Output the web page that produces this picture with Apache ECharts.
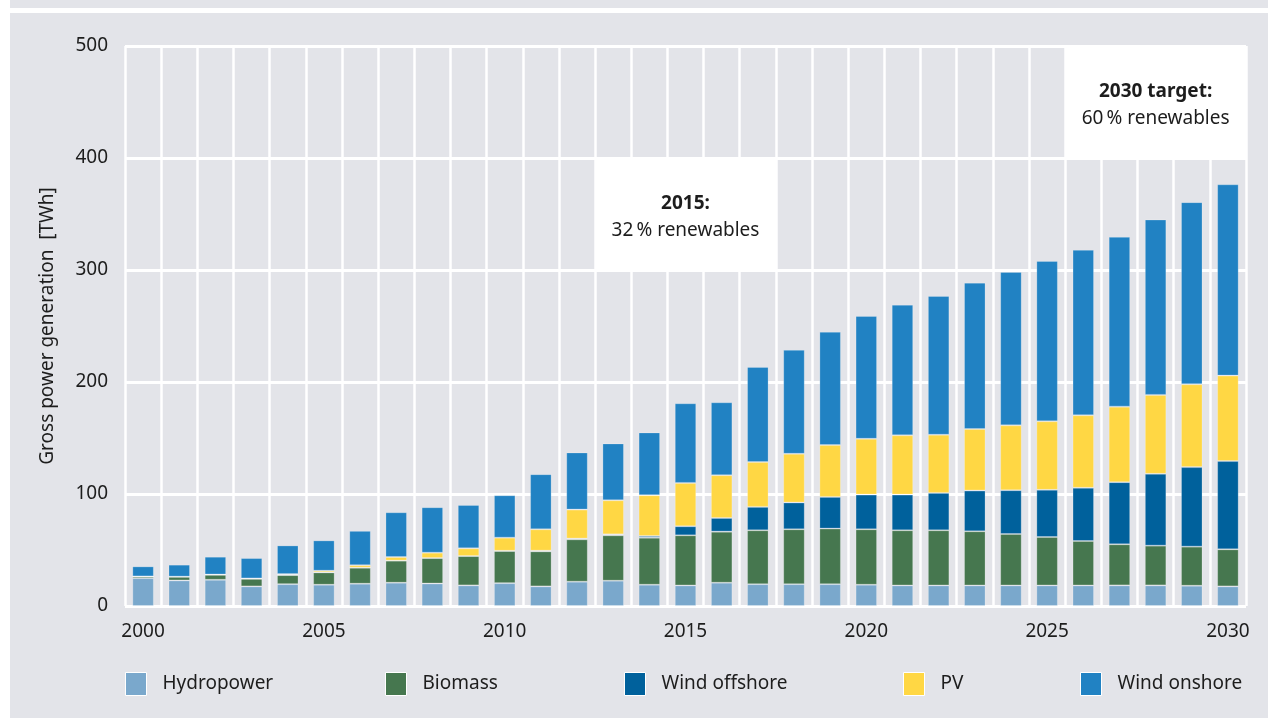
<!DOCTYPE html>
<html>
<head>
<meta charset="utf-8">
<title>Gross power generation from renewables</title>
<script src="https://cdn.jsdelivr.net/npm/echarts@6/dist/echarts.min.js"></script>
<style>
  html, body { margin: 0; padding: 0; background: #ffffff; }
  body { width: 1268px; height: 718px; position: relative; overflow: hidden; }
  .band { position: absolute; background: #e3e4e9; }
  #topBand { left: 10px; top: 0; width: 1258px; height: 8px; }
  #panel { left: 10px; top: 13px; width: 1258px; height: 705px; }
  #chart { position: absolute; left: 0; top: 0; width: 1268px; height: 718px; }
</style>
</head>
<body>
<div class="band" id="topBand"></div>
<div class="band" id="panel"></div>
<div id="chart"></div>
<script>
// Years on the category axis
const years = [
  '2000','2001','2002','2003','2004','2005','2006','2007','2008','2009',
  '2010','2011','2012','2013','2014','2015','2016','2017','2018','2019',
  '2020','2021','2022','2023','2024','2025','2026','2027','2028','2029','2030'
];

// Gross power generation by source, TWh
const hydropower = [
  24.9, 22.8, 23.4, 17.5, 19.5, 19.0, 19.9, 20.8, 20.1, 18.4,
  20.4, 17.5, 21.7, 22.6, 19.0, 18.4, 20.8, 19.5, 19.5, 19.5,
  19.0, 18.4, 18.4, 18.4, 18.4, 18.4, 18.4, 18.4, 18.4, 18.1, 17.5
];
const biomass = [
  1.5, 3.3, 4.5, 6.8, 8.1, 11.0, 14.3, 19.7, 22.7, 26.2,
  28.7, 31.3, 37.8, 40.5, 42.0, 44.7, 45.6, 48.1, 49.0, 49.6,
  49.5, 49.2, 49.2, 48.3, 45.9, 43.2, 39.6, 36.7, 35.5, 34.9, 33.1
];
const windOffshore = [
  0, 0, 0, 0, 0, 0, 0, 0, 0, 0,
  0.2, 0.6, 0.7, 0.9, 1.5, 8.1, 12.2, 20.9, 23.9, 28.3,
  31.0, 31.9, 33.4, 36.4, 39.1, 42.1, 47.5, 55.5, 64.1, 71.0, 78.8
];
const pv = [
  0, 0.1, 0.2, 0.3, 0.9, 1.5, 2.2, 3.2, 4.8, 6.9,
  11.7, 19.1, 25.9, 30.4, 36.4, 38.7, 38.2, 40.0, 43.5, 46.3,
  49.8, 52.9, 51.9, 54.9, 57.9, 61.2, 64.8, 67.4, 70.5, 74.0, 76.3
];
const windOnshore = [
  9.0, 10.7, 15.9, 18.2, 25.6, 27.1, 30.7, 40.0, 40.6, 38.7,
  37.9, 49.2, 51.0, 50.8, 56.1, 71.1, 65.1, 85.0, 92.8, 101.1,
  109.6, 116.6, 123.9, 130.7, 137.0, 143.2, 147.7, 151.6, 156.6, 162.6, 170.8
];

// Value axis ticks
const yTicks = [0, 100, 200, 300, 400, 500];

// Callout boxes: spanned years, value range, heading and share text
const noteFirstYear = ['2013', '2026'];
const noteLastYear = ['2017', '2030'];
const noteLow = [300, 400];
const noteHigh = [400, 500];
const noteHeading = ['2015:', '2030 target:'];
const noteShare = ['32\u2009% renewables', '60\u2009% renewables'];

const seriesNames = ['Hydropower', 'Biomass', 'Wind offshore', 'PV', 'Wind onshore'];
const seriesData = [hydropower, biomass, windOffshore, pv, windOnshore];
const seriesColors = ['#7aa8cc', '#46774f', '#00619c', '#ffd744', '#2182c3'];
const legendLeft = [120, 380, 619, 898, 1075];

const FONT = '"Noto Sans", "Open Sans", sans-serif';
const INK = '#1d1d1d';

const noteData = noteHeading.map((h, i) => [
  years.indexOf(noteFirstYear[i]),
  years.indexOf(noteLastYear[i]),
  noteLow[i],
  noteHigh[i],
  h,
  noteShare[i]
]);

const barSeries = seriesNames.map((name, i) => ({
  name: name,
  type: 'bar',
  stack: 'total',
  data: seriesData[i],
  barWidth: 21.5,
  itemStyle: {
    color: seriesColors[i],
    borderColor: 'rgba(255,255,255,0.22)',
    borderWidth: 1
  },
  emphasis: { disabled: true }
}));

const noteSeries = {
  type: 'custom',
  name: 'notes',
  data: noteData,
  silent: true,
  z: 5,
  encode: { x: [0, 1], y: [2, 3] },
  renderItem: function (params, api) {
    const i0 = api.value(0);
    const i1 = api.value(1);
    const topLeft = api.coord([i0, api.value(3)]);
    const bottomLeft = api.coord([i0, api.value(2)]);
    const band = api.size([1, 0])[0];
    const x0 = topLeft[0] - band / 2;
    const w = (i1 - i0 + 1) * band;
    const h = bottomLeft[1] - topLeft[1];
    return {
      type: 'group',
      children: [
        {
          type: 'rect',
          shape: { x: x0, y: topLeft[1], width: w, height: h },
          style: { fill: '#ffffff' }
        },
        {
          type: 'text',
          x: x0 + w / 2,
          y: topLeft[1] + h / 2 + 3,
          style: {
            text: '{b|' + api.value(4) + '}\n{n|' + api.value(5) + '}',
            align: 'center',
            verticalAlign: 'middle',
            rich: {
              b: { fontFamily: FONT, fontSize: 19, fontWeight: 'bold', fill: INK, lineHeight: 27, align: 'center' },
              n: { fontFamily: FONT, fontSize: 19, fill: INK, lineHeight: 27, align: 'center' }
            }
          }
        }
      ]
    };
  }
};

const legends = seriesNames.map((name, i) => ({
  data: [name],
  left: legendLeft[i],
  top: 667,
  icon: 'rect',
  itemWidth: 21,
  itemHeight: 23,
  itemStyle: { borderColor: '#ffffff', borderWidth: 1 },
  selectedMode: false,
  textStyle: { fontFamily: FONT, fontSize: 19, color: INK, padding: [0, 0, 0, 11] }
}));

const chart = echarts.init(document.getElementById('chart'), null, { renderer: 'canvas' });
chart.setOption({
  animation: false,
  backgroundColor: 'transparent',
  textStyle: { fontFamily: FONT },
  grid: { left: 125, right: 22, top: 46, bottom: 112, containLabel: false },
  legend: legends,
  xAxis: {
    type: 'category',
    data: years,
    boundaryGap: true,
    axisLine: { show: false },
    axisTick: { show: false },
    axisLabel: {
      interval: 4,
      margin: 16,
      fontSize: 19,
      color: INK,
      fontFamily: FONT
    },
    splitLine: {
      show: true,
      interval: 0,
      lineStyle: { color: '#ffffff', width: 2.5 }
    }
  },
  yAxis: {
    type: 'value',
    min: yTicks[0],
    max: yTicks[yTicks.length - 1],
    interval: yTicks[1] - yTicks[0],
    name: 'Gross power generation  [TWh]',
    nameLocation: 'middle',
    nameGap: 68,
    nameRotate: 90,
    nameTextStyle: { fontFamily: FONT, fontSize: 19, color: INK },
    axisLine: { show: false },
    axisTick: { show: false },
    axisLabel: { margin: 17, fontSize: 19, color: INK, fontFamily: FONT },
    splitLine: { show: true, lineStyle: { color: '#ffffff', width: 3 } }
  },
  series: barSeries.concat([noteSeries])
});
</script>
</body>
</html>
